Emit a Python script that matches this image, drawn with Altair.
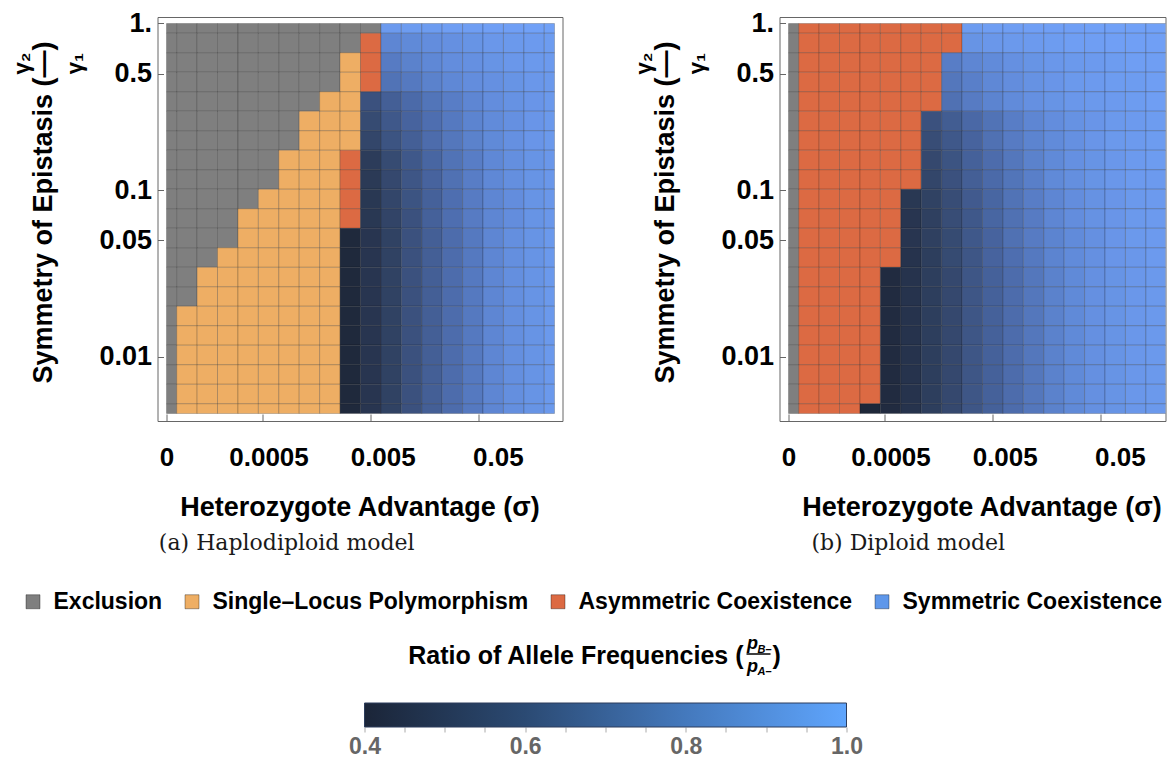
import altair as alt
import numpy as np
import pandas as pd

# ---------------------------------------------------------------- data
# heterozygote advantage grid (first column is sigma = 0)
SIGMA = [0.0, 1.0e-4, 1.544e-4, 2.385e-4, 3.684e-4, 5.690e-4, 8.788e-4, 1.357e-3,
         2.096e-3, 3.238e-3, 5.000e-3, 7.723e-3, 1.193e-2, 1.842e-2, 2.845e-2,
         4.394e-2, 6.787e-2, 0.1048, 0.1619, 0.25]
# symmetry of epistasis grid (gamma2 / gamma1), top row first
GAMMA = [1.0, 0.7638, 0.5834, 0.4457, 0.3404, 0.2600, 0.1986, 0.1517, 0.1159,
         0.0885, 0.0676, 0.0516, 0.0394, 0.0301, 0.0230, 0.01758, 0.01343,
         0.01026, 0.00783, 0.00598, 0.00457]

X_TICKS = [0, 0.0005, 0.005, 0.05]
Y_TICKS = [1, 0.5, 0.1, 0.05, 0.01]

CATEGORIES = ["Exclusion", "Single\u2013Locus Polymorphism",
              "Asymmetric Coexistence", "Symmetric Coexistence"]
CAT_COLORS = ["#7f7f7f", "#eeae64", "#dc6a43", "#5e97ea"]
CODE = {"E": 0, "S": 1, "A": 2, "B": 3}

# E = exclusion, S = single-locus polymorphism, A = asymmetric, B = symmetric
HAPLO_ROWS = [
    "EEEEEEEEEEEBBBBBBBBB",
    "EEEEEEEEEEABBBBBBBBB",
    "EEEEEEEEESABBBBBBBBB",
    "EEEEEEEEESABBBBBBBBB",
    "EEEEEEEESSBBBBBBBBBB",
    "EEEEEEESSSBBBBBBBBBB",
    "EEEEEEESSSBBBBBBBBBB",
    "EEEEEESSSABBBBBBBBBB",
    "EEEEEESSSABBBBBBBBBB",
    "EEEEESSSSABBBBBBBBBB",
    "EEEESSSSSABBBBBBBBBB",
    "EEEESSSSSBBBBBBBBBBB",
    "EEESSSSSSBBBBBBBBBBB",
    "EESSSSSSSBBBBBBBBBBB",
    "EESSSSSSSBBBBBBBBBBB",
    "ESSSSSSSSBBBBBBBBBBB",
    "ESSSSSSSSBBBBBBBBBBB",
    "ESSSSSSSSBBBBBBBBBBB",
    "ESSSSSSSSBBBBBBBBBBB",
    "ESSSSSSSSBBBBBBBBBBB",
    "ESSSSSSSSBBBBBBBBBBB",
]
LOW_H = [0.41, 0.47, 0.53, 0.60, 0.66, 0.72, 0.78, 0.84, 0.89, 0.92, 0.95]
HAPLO_RATIO = [
    [0.96, 0.97, 0.97, 0.98, 0.98, 0.99, 0.99, 1.00, 1.00],
    [0.84, 0.86, 0.88, 0.90, 0.92, 0.94, 0.95, 0.96, 0.97],
    [0.79, 0.82, 0.85, 0.88, 0.90, 0.92, 0.94, 0.95, 0.96],
    [0.75, 0.78, 0.82, 0.85, 0.88, 0.90, 0.92, 0.94, 0.95],
    [0.60, 0.66, 0.71, 0.76, 0.80, 0.84, 0.88, 0.91, 0.93, 0.95],
    [0.57, 0.63, 0.68, 0.73, 0.78, 0.83, 0.87, 0.90, 0.93, 0.95],
    [0.55, 0.61, 0.66, 0.72, 0.77, 0.82, 0.86, 0.90, 0.93, 0.95],
    [0.50, 0.57, 0.63, 0.69, 0.75, 0.80, 0.85, 0.89, 0.92, 0.94],
    [0.49, 0.56, 0.62, 0.68, 0.74, 0.80, 0.85, 0.89, 0.92, 0.94],
    [0.48, 0.55, 0.61, 0.67, 0.73, 0.79, 0.84, 0.88, 0.92, 0.94],
    [0.48, 0.54, 0.60, 0.67, 0.73, 0.79, 0.84, 0.88, 0.92, 0.94],
    LOW_H, LOW_H, LOW_H, LOW_H, LOW_H, LOW_H, LOW_H, LOW_H, LOW_H, LOW_H,
]

DIPLO_ROWS = [
    "EAAAAAAAABBBBBBBBBBB",
    "EAAAAAAAABBBBBBBBBBB",
    "EAAAAAAABBBBBBBBBBBB",
    "EAAAAAAABBBBBBBBBBBB",
    "EAAAAAAABBBBBBBBBBBB",
    "EAAAAAABBBBBBBBBBBBB",
    "EAAAAAABBBBBBBBBBBBB",
    "EAAAAAABBBBBBBBBBBBB",
    "EAAAAAABBBBBBBBBBBBB",
    "EAAAAABBBBBBBBBBBBBB",
    "EAAAAABBBBBBBBBBBBBB",
    "EAAAAABBBBBBBBBBBBBB",
    "EAAAAABBBBBBBBBBBBBB",
    "EAAAABBBBBBBBBBBBBBB",
    "EAAAABBBBBBBBBBBBBBB",
    "EAAAABBBBBBBBBBBBBBB",
    "EAAAABBBBBBBBBBBBBBB",
    "EAAAABBBBBBBBBBBBBBB",
    "EAAAABBBBBBBBBBBBBBB",
    "EAAAABBBBBBBBBBBBBBB",
    "EAAABBBBBBBBBBBBBBBB",
]
LOW_D = [0.42, 0.46, 0.51, 0.56, 0.62, 0.67, 0.72, 0.77, 0.82, 0.86, 0.90, 0.92, 0.94, 0.95, 0.96]
DIPLO_RATIO = [
    [0.97, 0.98, 0.98, 0.99, 0.99, 0.99, 1.00, 1.00, 1.00, 1.00, 1.00],
    [0.92, 0.94, 0.95, 0.96, 0.97, 0.98, 0.98, 0.99, 0.99, 0.99, 0.99],
    [0.80, 0.84, 0.87, 0.90, 0.92, 0.94, 0.95, 0.96, 0.97, 0.98, 0.98, 0.98],
    [0.77, 0.81, 0.85, 0.88, 0.91, 0.93, 0.95, 0.96, 0.97, 0.97, 0.98, 0.98],
    [0.74, 0.79, 0.83, 0.87, 0.90, 0.92, 0.94, 0.95, 0.96, 0.97, 0.98, 0.98],
    [0.60, 0.65, 0.70, 0.75, 0.80, 0.84, 0.88, 0.91, 0.93, 0.95, 0.96, 0.97, 0.97],
    [0.58, 0.63, 0.68, 0.74, 0.79, 0.83, 0.87, 0.90, 0.93, 0.95, 0.96, 0.97, 0.97],
    [0.56, 0.61, 0.67, 0.72, 0.77, 0.82, 0.86, 0.90, 0.92, 0.94, 0.96, 0.97, 0.97],
    [0.55, 0.60, 0.66, 0.71, 0.76, 0.81, 0.86, 0.89, 0.92, 0.94, 0.96, 0.96, 0.97],
    [0.48, 0.53, 0.58, 0.64, 0.69, 0.75, 0.80, 0.84, 0.88, 0.91, 0.93, 0.95, 0.96, 0.97],
    [0.47, 0.52, 0.58, 0.63, 0.69, 0.74, 0.79, 0.84, 0.88, 0.91, 0.93, 0.95, 0.96, 0.97],
    [0.47, 0.52, 0.57, 0.63, 0.68, 0.74, 0.79, 0.83, 0.87, 0.90, 0.93, 0.95, 0.96, 0.96],
    [0.46, 0.51, 0.57, 0.62, 0.68, 0.73, 0.78, 0.83, 0.87, 0.90, 0.93, 0.94, 0.96, 0.96],
    LOW_D, LOW_D, LOW_D, LOW_D, LOW_D, LOW_D, LOW_D,
    [0.40, 0.42, 0.46, 0.51, 0.56, 0.62, 0.67, 0.72, 0.77, 0.82, 0.86, 0.90, 0.92, 0.94, 0.95, 0.96],
]

RATIO_STOPS = [0.4, 0.55, 0.7, 0.85, 1.0]
RATIO_COLORS = ["#1e2739", "#33466a", "#4a68a6", "#5f88d6", "#71a1f7"]

CBAR_TICKS = [0.4, 0.45, 0.5, 0.55, 0.6, 0.65, 0.7, 0.75, 0.8, 0.85, 0.9, 0.95, 1.0]
CBAR_STOPS = [0.4, 0.6, 0.8, 1.0]
CBAR_COLORS = ["#1b2538", "#2b4a73", "#4479bd", "#5fa5fd"]

# ---------------------------------------------------------------- layout
FONT = "Liberation Sans"
PAD_L, PAD_T = 2.5, 0
W_A, W_B, H = 405, 386, 404
CELLS_W, CELLS_H = 388, 390
SP_H, SP_V = 69, 34
W_C, H_C = 990, 24
BL, BT = 157, 707                   # page position of the bottom view's origin
CB_LEFT, CB_RIGHT = 364, 846        # page x of the colour bar ends

# ---------------------------------------------------------------- grid geometry
lx = np.log10(np.array(SIGMA[1:]))
XC = np.concatenate([[lx[0] - (lx[1] - lx[0])], lx])
XE = np.concatenate([[XC[0]], (XC[:-1] + XC[1:]) / 2, [XC[-1]]])
LY = np.log10(np.array(GAMMA))
YE = np.concatenate([[LY[0]], (LY[:-1] + LY[1:]) / 2, [LY[-1]]])

pxdec_x = CELLS_W / (XC[-1] - XC[0])
pxdec_y = CELLS_H / (LY[0] - LY[-1])
XDOM_A = [XC[0] - 9 / pxdec_x, XC[-1] + 8 / pxdec_x]
# the right panel runs off the page edge in the reference: same scale, cut short
XDOM_B = [XC[0] - 9 / pxdec_x, XC[0] + (W_B - 9) / pxdec_x]
YDOM = [10 ** (LY[-1] - 7.5 / pxdec_y), 10 ** (LY[0] + 6.5 / pxdec_y)]
XTICK_POS = [float(XC[0])] + [float(np.log10(v)) for v in X_TICKS[1:]]


def make_cells(rows, ratios):
    recs = []
    for i, row in enumerate(rows):
        vals = iter(ratios[i])
        for j, ch in enumerate(row):
            recs.append({
                "x": float(XE[j]), "x2": float(XE[j + 1]),
                "y": float(10 ** YE[i]), "y2": float(10 ** YE[i + 1]),
                "cat": CATEGORIES[CODE[ch]],
                "ratio": next(vals) if ch == "B" else None,
            })
    return pd.DataFrame(recs)


CAT_SCALE = alt.Scale(domain=CATEGORIES, range=CAT_COLORS)
CELL_STYLE = dict(stroke="black", strokeOpacity=0.2, strokeWidth=1, clip=True)


def panel(df, width, xdom, caption, caption_dx):
    xscale = alt.Scale(domain=xdom, nice=False, zero=False)
    yscale = alt.Scale(type="log", domain=YDOM, nice=False)
    xaxis = alt.Axis(
        values=XTICK_POS,
        labelExpr="datum.value < -4.05 ? '0' : format(pow(10, datum.value), '~g')",
        title="Heterozygote Advantage (\u03c3)", offset=-7, tickSize=7, titleX=202,
        labelPadding=23, titlePadding=24, domain=False, grid=False, labelFlush=False,
        labelOffset={"condition": [
            {"test": "datum.value > -1.6", "value": 19},
            {"test": "datum.value > -2.6", "value": 12},
            {"test": "datum.value > -3.6", "value": 6}], "value": 0},
    )
    yaxis = alt.Axis(
        values=Y_TICKS,
        labelExpr="datum.value == 1 ? '1.' : format(datum.value, '~g')",
        title="Symmetry of Epistasis (\u2014)", offset=-6, tickSize=6, titleY=195,
        labelFontSize=27, labelPadding=6, titlePadding=41, domain=False, grid=False,
        labelFlush=False,
    )
    enc = dict(x=alt.X("x:Q", scale=xscale, axis=xaxis), x2="x2:Q",
               y=alt.Y("y:Q", scale=yscale, axis=yaxis), y2="y2:Q")
    cat = alt.Chart(df[df["cat"] != CATEGORIES[3]].drop(columns="ratio")).mark_rect(
        **CELL_STYLE).encode(fill=alt.Fill("cat:N", scale=CAT_SCALE, legend=None), **enc)
    blue = alt.Chart(df[df["cat"] == CATEGORIES[3]]).mark_rect(**CELL_STYLE).encode(
        color=alt.Color("ratio:Q", scale=alt.Scale(domain=RATIO_STOPS, range=RATIO_COLORS,
                                                   interpolate="rgb"), legend=None), **enc)
    g2 = alt.Chart(pd.DataFrame({"t": ["\u03b3\u2082"]})).mark_text(
        angle=270, font=FONT, fontSize=22, fontWeight="bold", color="black",
        align="center", baseline="middle").encode(
        text="t:N", x=alt.value(-135.5), y=alt.value(46.5))
    g1 = alt.Chart(pd.DataFrame({"t": ["\u03b3\u2081"]})).mark_text(
        angle=270, font=FONT, fontSize=22, fontWeight="bold", color="black",
        align="center", baseline="middle").encode(
        text="t:N", x=alt.value(-83), y=alt.value(46.5))
    return alt.layer(cat, blue, g2, g1).properties(
        width=width, height=H,
        title=alt.TitleParams(text=caption, orient="bottom", anchor="middle", frame="bounds",
                              font="DejaVu Serif", fontSize=22, fontWeight="normal",
                              color="#1a1a1a", offset=13, dx=caption_dx))


pA = panel(make_cells(HAPLO_ROWS, HAPLO_RATIO), W_A, XDOM_A, "(a) Haplodiploid model", 0)
pB = panel(make_cells(DIPLO_ROWS, DIPLO_RATIO), W_B, XDOM_B, "(b) Diploid model", 9)

# ---------------------------------------------------------------- legend + colour bar
LEGEND = alt.Legend(
    orient="none", legendX=21 - BL, legendY=594 - BT, direction="horizontal",
    title=None, symbolType="square", symbolSize=196, symbolStrokeWidth=1,
    symbolStrokeColor="rgba(0,0,0,0.35)", labelFont=FONT, labelFontSize=23,
    labelFontWeight="bold", labelColor="black", labelOffset=9, columnPadding=18,
    labelLimit=600,
)
legend_layer = alt.Chart(pd.DataFrame({"cat": CATEGORIES})).mark_rect(strokeWidth=0).encode(
    fill=alt.Fill("cat:N", scale=CAT_SCALE, legend=LEGEND),
    x=alt.value(0), x2=alt.value(0), y=alt.value(0), y2=alt.value(0))

ppu = (CB_RIGHT - CB_LEFT) / (CBAR_TICKS[-1] - CBAR_TICKS[0])
d0 = CBAR_TICKS[0] - (CB_LEFT - BL) / ppu
d1 = d0 + W_C / ppu
grad = alt.LinearGradient(
    gradient="linear", x1=0, x2=1, y1=0, y2=0,
    stops=[alt.GradientStop(offset=(v - CBAR_STOPS[0]) / (CBAR_STOPS[-1] - CBAR_STOPS[0]), color=c)
           for v, c in zip(CBAR_STOPS, CBAR_COLORS)])
bar = alt.Chart(pd.DataFrame({"lo": [CBAR_TICKS[0]], "hi": [CBAR_TICKS[-1]]})).mark_rect(
    color=grad, stroke="#2c3d5c", strokeWidth=1).encode(
    x=alt.X("lo:Q", scale=alt.Scale(domain=[d0, d1], nice=False, zero=False),
            axis=alt.Axis(values=CBAR_TICKS, title=None, domain=False, grid=False,
                          labelExpr="abs(datum.value*5 - round(datum.value*5)) < 0.01 ? format(datum.value, '.1f') : ''",
                          tickSize=5, tickColor="#aaaaaa", labelColor="#666666",
                          labelFontSize=23, labelPadding=3, labelFlush=False)),
    x2="hi:Q", y=alt.value(0), y2=alt.value(H_C))


def label(txt, x, y, size, align="left", style="normal"):
    return alt.Chart(pd.DataFrame({"t": [txt]})).mark_text(
        font=FONT, fontSize=size, fontWeight="bold", fontStyle=style, align=align,
        baseline="alphabetic", color="black").encode(
        text="t:N", x=alt.value(x - BL), y=alt.value(y - BT))


frac_line = alt.Chart(pd.DataFrame({"t": [0]})).mark_rule(color="black", strokeWidth=1.5).encode(
    x=alt.value(746 - BL), x2=alt.value(770 - BL), y=alt.value(658 - BT))

bottom = alt.layer(
    legend_layer,
    bar,
    label("Ratio of Allele Frequencies (", 743, 668, 25, align="right"),
    label("p", 752, 653, 18, align="center", style="italic"),
    label("B\u2013", 757, 657, 11, style="italic"),
    frac_line,
    label("p", 752, 676, 18, align="center", style="italic"),
    label("A\u2013", 757, 679, 11, style="italic"),
    label(")", 772, 668, 25),
).properties(width=W_C, height=H_C, view=alt.ViewBackground(stroke="transparent"))

row = alt.hconcat(pA, pB, spacing=SP_H).resolve_scale(x="independent", y="independent")
chart = alt.vconcat(row, bottom, spacing=SP_V).resolve_scale(
    x="independent", y="independent", fill="independent", color="independent"
).properties(
    padding={"left": PAD_L, "top": PAD_T, "right": 0, "bottom": 0}
).configure(font=FONT, background="white").configure_view(
    stroke="#666666", strokeWidth=1
).configure_axis(
    labelFont=FONT, labelFontSize=26, labelFontWeight="bold", labelColor="black",
    titleFont=FONT, titleFontSize=27, titleFontWeight="bold", titleColor="black",
    tickColor="#666666", tickWidth=1,
)

chart.save("out.html", embed_options={"renderer": "svg", "actions": False})
